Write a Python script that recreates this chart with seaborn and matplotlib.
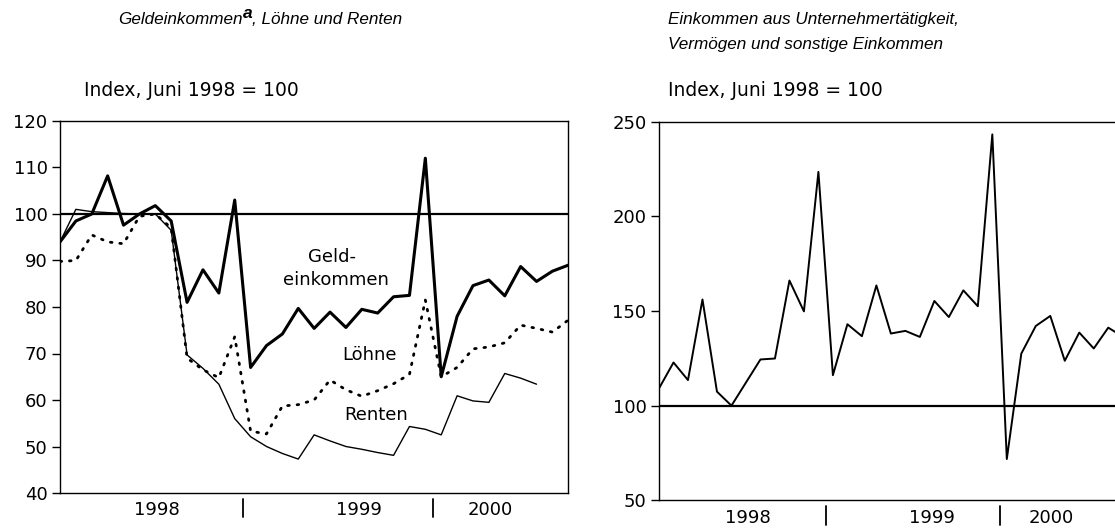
import numpy as np
import pandas as pd
import matplotlib
matplotlib.use("Agg")
import matplotlib.pyplot as plt
import seaborn as sns

# monthly values, Jan 1998 .. Sep 2000 (index, June 1998 = 100)
months = list(range(33))

geldeinkommen = [94, 98.5, 100, 108.2, 97.6, 100, 101.8, 98.5, 81, 88, 83, 103,
                 67, 71.7, 74.2, 79.7, 75.4, 78.9, 75.6, 79.5, 78.7, 82.2, 82.5, 112,
                 65, 78, 84.6, 85.8, 82.4, 88.7, 85.5, 87.7, 89]
loehne = [89.8, 90, 95.5, 94, 93.6, 99.5, 100, 97, 69, 66.5, 64.8, 73.6,
          53.3, 52.7, 58.7, 59, 60, 64.3, 62.2, 60.8, 62, 63.5, 65.5, 81.5,
          65, 67, 71, 71.4, 72.3, 76.1, 75.4, 74.6, 77.2]
renten = [94, 101, 100.5, 100.3, 100.1, 100, 100, 96.5, 69.7, 66.8, 63.4, 56,
          52.1, 50, 48.5, 47.3, 52.5, 51.2, 50, 49.4, 48.7, 48.1, 54.3, 53.7,
          52.5, 60.9, 59.8, 59.5, 65.7, 64.7, 63.4, np.nan, np.nan]
unternehmer = [109.1, 122.8, 113.5, 156.1, 107.4, 100, 112.2, 124.4, 124.9, 166.1, 149.8, 223.5,
               116.1, 143, 136.7, 163.5, 138.1, 139.5, 136.3, 155.3, 146.8, 160.9, 152.5, 243.3,
               71.8, 127.5, 142.1, 147.4, 123.7, 138.6, 130.2, 141.2, 136.5]

years = ["1998", "1999", "2000"]
year_pos = [6.1, 18.8, 27.1]
year_breaks = [11.5, 23.5]

df = pd.DataFrame({"monat": months, "Geldeinkommen": geldeinkommen,
                   "Löhne": loehne, "Renten": renten, "Unternehmer": unternehmer})

sns.set_style("ticks")
plt.rcParams["font.family"] = ["DejaVu Sans"]
plt.rcParams["text.color"] = "black"
plt.rcParams["xtick.color"] = "black"
plt.rcParams["ytick.color"] = "black"

W, H = 1115, 529
fig = plt.figure(figsize=(W / 100, H / 100), dpi=100)


def px_axes(left, top, right, bottom):
    return fig.add_axes([left / W, 1 - bottom / H, (right - left) / W, (bottom - top) / H])


ax1 = px_axes(60, 121, 568.3, 493)
ax2 = px_axes(659, 121.7, 1130, 500.3)

# left panel
sns.lineplot(data=df, x="monat", y="Renten", ax=ax1, color="black", lw=1.0)
sns.lineplot(data=df, x="monat", y="Löhne", ax=ax1, color="black", lw=2.0,
             linestyle=(0, (0.6, 2.8)), dash_capstyle="round")
sns.lineplot(data=df, x="monat", y="Geldeinkommen", ax=ax1, color="black", lw=2.2)
ax1.axhline(100, color="black", lw=1.6, zorder=1)
ax1.set_xlim(0, 32)
ax1.set_ylim(40, 120)
ax1.set_yticks(range(40, 121, 10))

ax1.text(17.1, 90.8, "Geld-", ha="center", va="center", fontsize=13)
ax1.text(17.4, 85.8, "einkommen", ha="center", va="center", fontsize=13)
ax1.text(19.5, 69.7, "Löhne", ha="center", va="center", fontsize=13)
ax1.text(19.9, 56.8, "Renten", ha="center", va="center", fontsize=13)

# right panel
sns.lineplot(data=df, x="monat", y="Unternehmer", ax=ax2, color="black", lw=1.4)
ax2.axhline(100, color="black", lw=1.6, zorder=1)
ax2.set_xlim(0, 32.5)
ax2.set_ylim(50, 250)
ax2.set_yticks([50, 100, 150, 200, 250])

for ax in (ax1, ax2):
    ax.set_xlabel("")
    ax.set_ylabel("")
    ax.set_xticks(year_pos, years)
    ax.tick_params(axis="x", length=0, pad=6, labelsize=13)
    ax.tick_params(axis="y", length=6, width=1, pad=3, labelsize=13, direction="out")
    for s in ax.spines.values():
        s.set_linewidth(1.0)
        s.set_color("black")
    for xb in year_breaks:
        ax.plot([xb, xb], [-0.015, -0.065], transform=ax.get_xaxis_transform(),
                clip_on=False, color="black", lw=1.3)

# titles and units
title_kw = dict(family="Liberation Sans", style="italic", fontsize=12.3, va="baseline")
t1 = fig.text(118 / W, 1 - 24 / H, "Geldeinkommen", **title_kw)
fig.canvas.draw()
bb = t1.get_window_extent()
t2 = fig.text(bb.x1 / W, 1 - 18 / H, "a", family="Liberation Sans", style="italic",
              weight="bold", fontsize=12.5, va="baseline")
fig.canvas.draw()
bb = t2.get_window_extent()
fig.text(bb.x1 / W, 1 - 24 / H, ", Löhne und Renten", **title_kw)

fig.text(668 / W, 1 - 24 / H, "Einkommen aus Unternehmertätigkeit,", **title_kw)
fig.text(668 / W, 1 - 49 / H, "Vermögen und sonstige Einkommen", **title_kw)
fig.text(84 / W, 1 - 90 / H, "Index, Juni 1998 = 100", fontsize=13.5, va="center")
fig.text(668 / W, 1 - 90 / H, "Index, Juni 1998 = 100", fontsize=13.5, va="center")

fig.savefig("out.png", dpi=100)
